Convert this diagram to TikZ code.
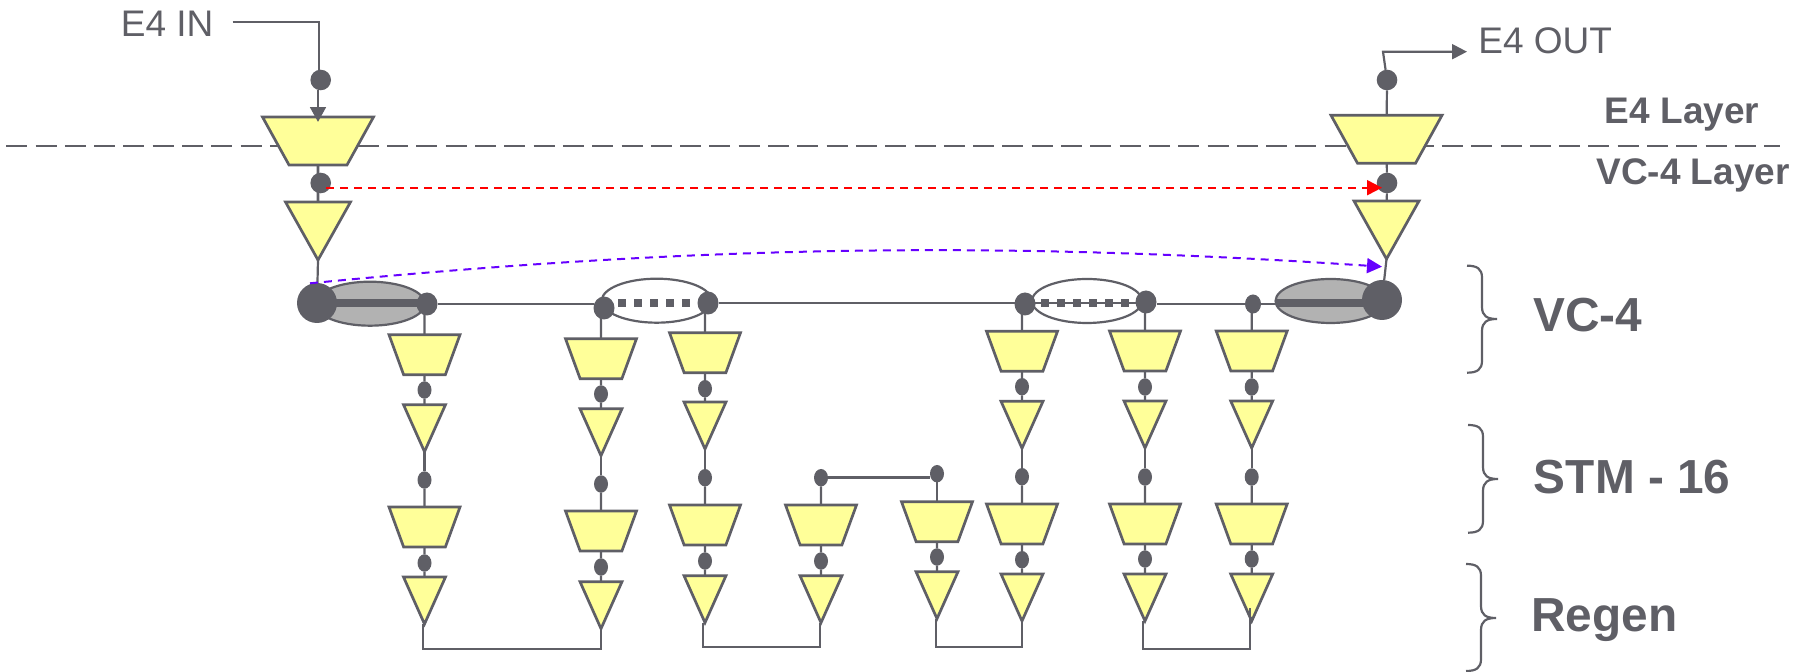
\documentclass[tikz,border=0pt]{standalone}
\usepackage{fontspec}
\setmainfont{Liberation Sans}
\usetikzlibrary{shapes.geometric,arrows.meta,backgrounds}
\definecolor{ink}{HTML}{5F5F66}
\definecolor{pale}{HTML}{FFFF99}
\definecolor{shade}{HTML}{B2B2B2}
\definecolor{violet}{HTML}{6600FF}
\newcommand{\Seed}{\phantom{\rule{1pt}{1pt}}}
\tikzset{
  wire/.style={draw=ink,line width=1.1pt},
  mainwire/.style={draw=ink,line width=1.3pt},
  thick bar/.style={draw=ink,line width=3.7pt},
  square bar/.style={draw=ink,line width=4pt,dash pattern=on 4pt off 4pt},
  outline/.style={draw=ink,line width=1.35pt,fill=pale,inner sep=0pt,outer sep=0pt,execute at begin node=\Seed},
  smalltrap/.style={outline,trapezium,trapezium stretches=true,shape border rotate=180,
    trapezium left angle=70.7,trapezium right angle=70.7,minimum width=35.5pt,minimum height=20pt},
  bigtrap/.style={outline,trapezium,trapezium stretches=true,shape border rotate=180,
    trapezium left angle=65.4,trapezium right angle=65.4,minimum width=55.5pt,minimum height=24pt},
  smalltri/.style={outline,isosceles triangle,isosceles triangle stretches=true,shape border rotate=-90,
    minimum width=21pt,minimum height=23.5pt,anchor=apex},
  bigtri/.style={outline,isosceles triangle,isosceles triangle stretches=true,shape border rotate=-90,
    minimum width=32.5pt,minimum height=29pt,anchor=apex},
  dotnode/.style={ellipse,fill=ink,inner sep=0pt,outer sep=0pt,minimum width=7pt,minimum height=8.7pt},
  ringdot/.style={ellipse,fill=ink,inner sep=0pt,outer sep=0pt,minimum width=10.5pt,minimum height=11.5pt},
  bigdot/.style={circle,fill=ink,inner sep=0pt,outer sep=0pt,minimum size=20pt},
  enddot/.style={circle,fill=ink,inner sep=0pt,outer sep=0pt,minimum size=10.3pt},
  lens/.style={ellipse,draw=ink,line width=1.1pt,inner sep=0pt,outer sep=0pt,minimum width=55pt,minimum height=22pt},
  thin label/.style={text=ink,inner sep=0pt,anchor=base west,font=\fontsize{18.5}{20}\selectfont},
  layer label/.style={text=ink,inner sep=0pt,anchor=base west,font=\fontsize{18.5}{20}\selectfont\bfseries},
  big label/.style={text=ink,inner sep=0pt,anchor=base west,font=\fontsize{23.9}{26}\selectfont\bfseries},
  flow/.style={line width=1pt,dash pattern=on 4pt off 3pt,-{Triangle[width=7.5pt,length=7.5pt]}},
}
% half column: top dot, trapezoid, dot, triangle
\newcommand{\HalfCol}[6]{%
  \node[dotnode] (#1d) at (#2,#3) {};
  \node[smalltrap] (#1t) at (#2,#4+20) {};
  \node[dotnode] (#1e) at (#2,#5) {};
  \node[smalltri] (#1v) at (#2,#6+47) {};
  \begin{pgfonlayer}{background}
    \draw[wire] (#1d) -- (#1t);
    \draw[wire] (#1t) -- (#1e);
    \draw[wire] (#1e) -- (#1v);
  \end{pgfonlayer}}
\newcommand{\Brace}[4]{% x-end, y-top, y-mid, y-bottom
  \draw[wire] (#1,#2) .. controls (#1+10,#2) and (#1+15,#2+3) .. (#1+15,#2+12)
    -- (#1+15,#3-12) .. controls (#1+15,#3-3) and (#1+20,#3) .. (#1+30,#3)
    .. controls (#1+20,#3) and (#1+15,#3+3) .. (#1+15,#3+12)
    -- (#1+15,#4-12) .. controls (#1+15,#4-3) and (#1+10,#4) .. (#1,#4);}
\begin{document}
\begin{tikzpicture}[x=0.5pt,y=-0.5pt]
\useasboundingbox (0,0) rectangle (1808,672);
% layer separator
\coordinate (sepL) at (6.2,146);
\coordinate (sepR) at (1780,146);
\begin{pgfonlayer}{background}
  \draw[draw=ink,line width=1.3pt,dash pattern=on 10.5pt off 4.15pt] (sepL) -- (sepR);
\end{pgfonlayer}

% left end stack
\node[enddot] (inDot) at (320.7,80) {};
\node[bigtrap] (inTrap) at (318,141) {};
\node[enddot] (inDot2) at (320.7,183) {};
\node[bigtri] (inTri) at (318,260) {};
% right end stack
\node[enddot] (outDot) at (1387,80) {};
\node[bigtrap] (outTrap) at (1386.5,139.3) {};
\node[enddot] (outDot2) at (1387,183) {};
\node[bigtri] (outTri) at (1386.5,259) {};

% ring elements
\node[lens,fill=shade] (eL) at (370,303.7) {};
\node[lens,fill=shade] (eR) at (1330.5,301) {};
\node[lens,fill=white] (eA) at (656.7,300.7) {};
\node[lens,fill=white] (eB) at (1087,301) {};

% columns
\node[smalltrap] (c1a) at (424.5,354.7) {};
\node[dotnode] (c1b) at (424.5,390) {};
\node[smalltri] (c1c) at (424.5,451.7) {};
\HalfCol{c1}{424.5}{480}{507}{563}{577}
\node[smalltrap] (c2a) at (601,358.7) {};
\node[dotnode] (c2b) at (601,394) {};
\node[smalltri] (c2c) at (601,455.7) {};
\HalfCol{c2}{601}{484}{511}{567}{581.7}
\node[smalltrap] (c3a) at (705,352.7) {};
\node[dotnode] (c3b) at (705,388.7) {};
\node[smalltri] (c3c) at (705,449) {};
\HalfCol{c3}{705}{477.7}{505}{561}{575.7}
\HalfCol{c4}{821}{477.7}{505}{561}{575.7}
\HalfCol{c5}{937}{473.7}{501.7}{557}{571.7}
\node[smalltrap] (c6a) at (1022,351.3) {};
\node[dotnode] (c6b) at (1022,386.7) {};
\node[smalltri] (c6c) at (1022,448.3) {};
\HalfCol{c6}{1022}{476.7}{504}{559.7}{574}
\node[smalltrap] (c7a) at (1145,351) {};
\node[dotnode] (c7b) at (1145,387) {};
\node[smalltri] (c7c) at (1145,448) {};
\HalfCol{c7}{1145}{477}{504}{559}{574}
\node[smalltrap] (c8a) at (1251.7,351) {};
\node[dotnode] (c8b) at (1251.7,387) {};
\node[smalltri] (c8c) at (1251.7,448) {};
\HalfCol{c8}{1251.7}{477}{504}{559}{574}

% bars inside the lenses, under the ring dots
\coordinate (barL) at (317,303);
\coordinate (barM) at (427,303);
\coordinate (barA) at (604,303);
\coordinate (barB) at (708,303);
\coordinate (barC) at (1025,303);
\coordinate (barD) at (1146,303);
\coordinate (barE) at (1276,303);
\coordinate (barF) at (1382,303);
\draw[thick bar] (barL) -- (barM);
\draw[thick bar] (barE) -- (barF);
\draw[square bar,dash phase=1pt] (barA) -- (barB);
\draw[wire] (barC) -- (barD);
\draw[square bar] (barC) -- (barD);

% ring dots
\node[bigdot] (bL) at (317,303) {};
\node[bigdot] (bR) at (1382,300) {};
\node[ringdot] (v1) at (427,304) {};
\node[ringdot] (v2) at (604,308) {};
\node[ringdot] (v3) at (708,303) {};
\node[ringdot] (v4) at (1025,304) {};
\node[ringdot] (v5) at (1146,302) {};
\node[ringdot,minimum width=8pt,minimum height=9.5pt] (v6) at (1253,304) {};

\begin{pgfonlayer}{background}
  % end stack wires
  \draw[mainwire] (inTrap) -- (inDot2 -| inTrap) -- (inTri);
  \draw[wire] (outTrap) -- (outDot2) -- (outTri);
  \draw[wire] (inTri.apex) -- (bL);
  \draw[wire] (outTri.apex) -- (bR);
  % ring wires
  \draw[wire] (v1.east) -- (v1.east -| v2.west);
  \draw[wire] (v3.east) -- (v3.east -| v4.west);
  \draw[wire] (v6.west) -- (v6.west -| v5.east);
  \draw[wire] (v6.east) -- (v6.east -| eR.west);
  % column tops and internal wires
  \foreach \cc/\vv in {c1/v1,c2/v2,c3/v3,c6/v4,c7/v5,c8/v6}{
    \draw[wire] (\cc a |- \vv) -- (\cc a);
    \draw[wire] (\cc a) -- (\cc b);
    \draw[wire] (\cc b) -- (\cc c);
    \draw[wire] (\cc c.apex) -- (\cc d);
  }
\end{pgfonlayer}

% link between columns 4 and 5
\draw[mainwire] (c4d.east) -- (c4d.east -| c5d.west);

% bottom loops
\coordinate (u1) at (0,649);
\coordinate (u2) at (0,646.7);
\coordinate (u3) at (0,646.7);
\coordinate (u4) at (0,648.7);
\coordinate (k1) at (423,0);
\coordinate (k3) at (703,0);
\coordinate (k4) at (819.6,0);
\coordinate (k5) at (935.6,0);
\coordinate (k7) at (1143,0);
\coordinate (k8) at (1250,608);
\draw[wire] (k1 |- c1v.apex) -- (k1 |- u1) -- (c2v.apex |- u1) -- (c2v.apex);
\draw[wire] (k3 |- c3v.apex) -- (k3 |- u2) -- (k4 |- u2) -- (k4 |- c4v.apex);
\draw[wire] (k5 |- c5v.apex) -- (k5 |- u3) -- (c6v.apex |- u3) -- (c6v.apex);
\draw[wire] (k7 |- c7v.apex) -- (k7 |- u4) -- (k8 |- u4) -- (k8);

% input / output
\node[thin label] (inL) at (120.5,37) {E4 IN};
\node[thin label] (outL) at (1478,54) {E4 OUT};
\coordinate (inS) at (232.7,22);
\coordinate (inC) at (319,22);
\coordinate (inTip) at (318,122);
\coordinate (outC) at (1383,51.7);
\coordinate (outTip) at (1467,51.7);
\draw[wire] (inS) -- (inC) -- (inDot.north -| inC);
\draw[mainwire,-{Triangle[width=7.8pt,length=7.4pt]}] (inDot.south -| inTip) -- (inTip);
\draw[wire] (outTrap) -- (outDot);
\draw[wire,-{Triangle[width=7.5pt,length=7.5pt]}] (outDot) -- (outC) -- (outTip);

% flows
\coordinate (rS) at (326,187.7);
\coordinate (rE) at (1382,187.7);
\coordinate (bS) at (310,283.3);
\coordinate (bE) at (1382,266.7);
\draw[flow,red] (rS) -- (rE);
\draw[flow,violet] (bS) .. controls (700,245) and (1000,241) .. (bE);

% labels
\node[layer label] (l1) at (1604.5,124) {E4 Layer};
\node[layer label] (l2) at (1596,185) {VC-4 Layer};
\node[big label] (l3) at (1533,332) {VC-4};
\node[big label] (l4) at (1533.5,493.5) {STM - 16};
\node[big label] (l5) at (1531,632) {Regen};

% braces
\Brace{1467}{265.7}{319}{372.7}
\Brace{1468}{425}{479}{532.7}
\Brace{1466}{564}{618}{671}
\end{tikzpicture}
\end{document}
